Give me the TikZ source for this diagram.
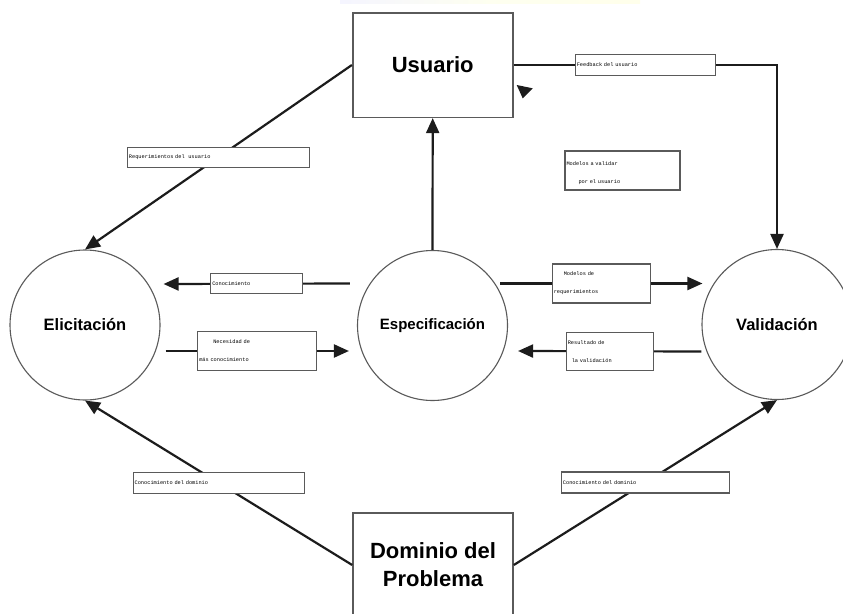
\documentclass[tikz,border=0pt]{standalone}
\usepackage{fontspec}
\setmainfont{Liberation Sans}
\newfontfamily\labelmono{Liberation Mono}
\usetikzlibrary{arrows.meta}

\definecolor{inkline}{HTML}{1C1C1C}
\definecolor{frame}{HTML}{5A5A5A}

\tikzset{
  flow/.style={line width=2.2pt, draw=inkline, -{Triangle[length=15pt,width=13pt]}},
  actor/.style={draw=frame, line width=1.6pt, fill=white, rectangle,
    minimum width=160pt, inner sep=0pt, align=center,
    font=\bfseries\fontsize{22}{28}\selectfont},
  stage/.style={draw=frame, line width=1.1pt, fill=white, circle,
    minimum size=150pt, inner sep=0pt},
  tag/.style={draw=frame, line width=1.2pt, fill=white, rectangle,
    inner xsep=1.5pt, inner ysep=0pt, align=left,
    font=\labelmono\fontsize{5.3}{18}\selectfont},
}

\begin{document}
\begin{tikzpicture}[x=1pt,y=-1pt]
\useasboundingbox (0,0) rectangle (843,613);

% faint band along the top edge
\shade[left color=blue!4, right color=yellow!8, middle color=green!8!yellow!6]
  (340,0) rectangle (640,3.5);

% actors
\node[actor, minimum height=104.6pt] (usr) at (432.7,65) {Usuario};
\node[actor, minimum height=104pt] (dom) at (433,565) {Dominio del\\Problema};

% process stages
\node[stage, font=\bfseries\fontsize{16.5}{20}\selectfont] (eli) at (85,325) {Elicitación};
\node[stage, font=\bfseries\fontsize{15}{20}\selectfont] (esp) at (432.5,325.5) {Especificación};
\node[stage, font=\bfseries\fontsize{16.5}{20}\selectfont] (val) at (777,324.5) {Validación};

% user requirements
\draw[flow] (usr.west) -- node[tag, text width=179pt, minimum height=20pt] (req)
  {Requerimientos del\ \ usuario} (eli.north);

% user feedback
\draw[flow] (usr.east) -| node[tag, pos=0.25, text width=137pt, minimum height=21pt] (fb)
  {Feedback del usuario} (val.north);

% specification delivers models to the user
\draw[flow] (esp.north) -- (usr.south);

% stray tip beside the user box
\fill[inkline] (516.7,85) -- (532.7,88.3) -- (522.7,98.3) -- cycle;

% models to be validated
\node[tag, text width=112pt, minimum height=39pt] (mv) at (622.5,170.5)
  {\rule{0pt}{9pt}Modelos a validar\\\hspace*{12pt}por el usuario};

% specification <-> elicitation
\draw[flow] ([shift={(-7,-42)}]esp.west) -- node[tag, text width=89pt, minimum height=20pt] (con)
  {Conocimiento} ([shift={(3,-41)}]eli.east);
\draw[flow] ([shift={(5,26)}]eli.east) -- node[tag, text width=116pt, minimum height=39pt] (nec)
  {\hspace*{14pt}Necesidad de\\más conocimiento} ([shift={(-8,25.5)}]esp.west);

% specification <-> validation
\draw[flow] ([shift={(-8,-42)}]esp.east) -- node[tag, text width=95pt, minimum height=39pt] (mr)
  {\hspace*{10pt}Modelos de\\requerimientos} ([shift={(1,-41)}]val.west);
\draw[flow] ([shift={(0,27)}]val.west) -- node[tag, text width=84pt, minimum height=38pt] (res)
  {Resultado de\\\hspace*{4pt}la validación} ([shift={(10,25.5)}]esp.east);

% domain knowledge
\draw[flow] (dom.west) -- node[tag, text width=168pt, minimum height=21pt] (dl)
  {Conocimiento del dominio} (eli.south);
\draw[flow] (dom.east) -- node[tag, text width=165pt, minimum height=21pt] (dr)
  {Conocimiento del dominio} (val.south);
\end{tikzpicture}
\end{document}
